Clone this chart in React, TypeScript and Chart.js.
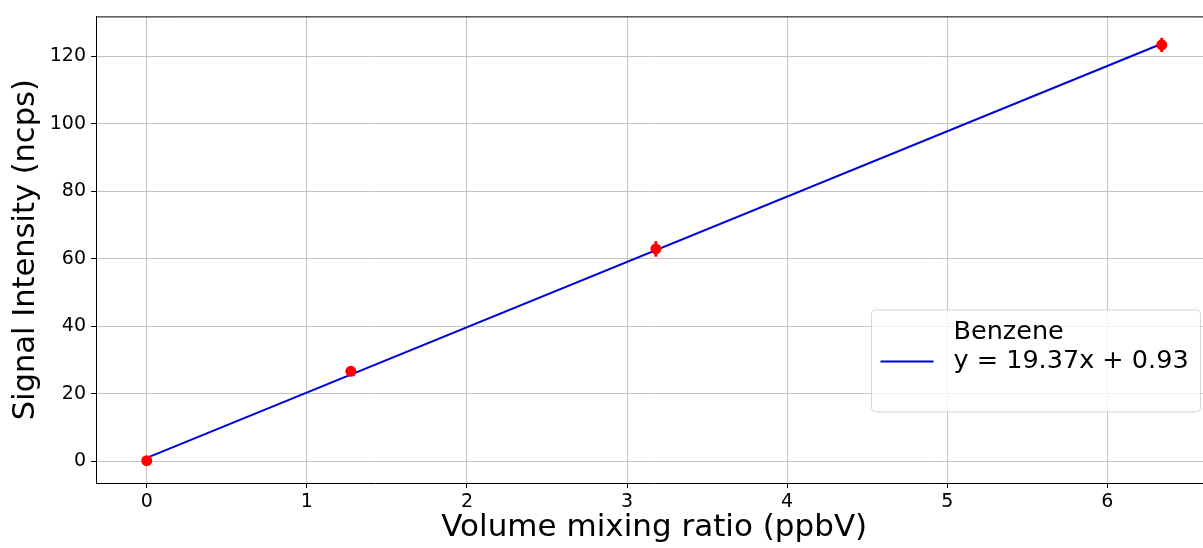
import React, { useEffect, useRef } from 'react';
import { Chart, registerables } from 'chart.js';
Chart.register(...registerables);

// ---- data ----
const pointX = [0, 1.275, 3.18, 6.34];
const pointY = [0.1, 26.6, 62.9, 123.4];
const pointErr = [0.25, 0.5, 2.3, 2.1];
const fitX = [0, 6.34];
const fitY = [0.93, 123.74];
const seriesName = 'Benzene';
const fitLabel = 'y = 19.37x + 0.93';
const xTitle = 'Volume mixing ratio (ppbV)';
const yTitle = 'Signal Intensity (ncps)';
const xRange = [-0.317, 6.657];
const yRange = [-6.52, 131.85];
const xStep = 1;
const yStep = 20;

const FONT = '"DejaVu Sans", sans-serif';

const extrasPlugin = {
  id: 'extras',
  afterDatasetsDraw(chart: any) {
    const ctx = chart.ctx;
    const xs = chart.scales.x;
    const ys = chart.scales.y;
    ctx.save();
    ctx.strokeStyle = 'red';
    ctx.lineWidth = 3;
    pointX.forEach((x, i) => {
      const px = xs.getPixelForValue(x);
      const y1 = ys.getPixelForValue(pointY[i] - pointErr[i]);
      const y2 = ys.getPixelForValue(pointY[i] + pointErr[i]);
      ctx.beginPath();
      ctx.moveTo(px, y1);
      ctx.lineTo(px, y2);
      ctx.stroke();
    });
    ctx.restore();
  },
  afterDraw(chart: any) {
    const ctx = chart.ctx;
    const a = chart.chartArea;
    ctx.save();
    // top spine
    ctx.strokeStyle = '#000';
    ctx.lineWidth = 1;
    ctx.beginPath();
    ctx.moveTo(a.left, a.top + 0.5);
    ctx.lineTo(a.right, a.top + 0.5);
    ctx.stroke();
    // legend (anchored to the visible plot region)
    const bx = 871.5;
    const by = a.top + 293.5;
    const bw = 329;
    const bh = 102;
    ctx.beginPath();
    if ((ctx as any).roundRect) (ctx as any).roundRect(bx, by, bw, bh, 4);
    else ctx.rect(bx, by, bw, bh);
    ctx.fillStyle = 'rgba(255,255,255,0.8)';
    ctx.fill();
    ctx.strokeStyle = '#d6d6d6';
    ctx.lineWidth = 1;
    ctx.stroke();
    ctx.strokeStyle = '#0000dd';
    ctx.lineWidth = 2;
    ctx.beginPath();
    ctx.moveTo(bx + 9, by + 51.5);
    ctx.lineTo(bx + 62, by + 51.5);
    ctx.stroke();
    ctx.fillStyle = '#000';
    ctx.font = `25.5px ${FONT}`;
    ctx.textBaseline = 'alphabetic';
    ctx.textAlign = 'left';
    ctx.fillText(seriesName, bx + 82, by + 29);
    ctx.fillText(fitLabel, bx + 82, by + 58);
    ctx.restore();
  },
};

export default function App() {
  const ref = useRef<HTMLCanvasElement>(null);
  useEffect(() => {
    if (!ref.current) return;
    const chart = new Chart(ref.current, {
      type: 'scatter',
      data: {
        datasets: [
          {
            label: seriesName,
            data: pointX.map((x, i) => ({ x, y: pointY[i] })),
            backgroundColor: 'red',
            borderWidth: 0,
            pointRadius: 5.5,
            order: 0,
          },
          {
            label: fitLabel,
            type: 'line',
            data: fitX.map((x, i) => ({ x, y: fitY[i] })),
            borderColor: '#0000dd',
            borderWidth: 2,
            pointRadius: 0,
            fill: false,
            order: 1,
          } as any,
        ],
      },
      options: {
        animation: false,
        responsive: false,
        devicePixelRatio: 1,
        layout: { padding: { left: 0, top: 16, right: 3, bottom: 0 } },
        plugins: { legend: { display: false }, tooltip: { enabled: false } },
        scales: {
          x: {
            type: 'linear',
            min: xRange[0],
            max: xRange[1],
            border: { color: '#000', width: 1 },
            grid: { color: '#c4c4c4', lineWidth: 1, tickColor: '#000', tickLength: 5, tickWidth: 1 },
            ticks: {
              stepSize: xStep,
              includeBounds: false,
              color: '#000',
              padding: 3,
              font: { family: FONT, size: 19 },
              maxRotation: 0,
            },
            title: {
              display: true,
              text: xTitle,
              color: '#000',
              font: { family: FONT, size: 31 },
              padding: { top: 0, bottom: 1 },
            },
            afterFit: (s: any) => {
              s.height = 65;
            },
          },
          y: {
            type: 'linear',
            min: yRange[0],
            max: yRange[1],
            border: { color: '#000', width: 1 },
            grid: { color: '#c4c4c4', lineWidth: 1, tickColor: '#000', tickLength: 5, tickWidth: 1 },
            ticks: {
              stepSize: yStep,
              includeBounds: false,
              color: '#000',
              padding: 5,
              font: { family: FONT, size: 19 },
            },
            title: {
              display: true,
              text: yTitle,
              color: '#000',
              font: { family: FONT, size: 30.5 },
              padding: { top: 8, bottom: 0 },
            },
            afterFit: (s: any) => {
              s.width = 96;
            },
          },
        },
      },
      plugins: [extrasPlugin],
    });
    return () => chart.destroy();
  }, []);
  return (
    <div style={{ position: 'fixed', left: 0, top: 0, width: 1203, height: 548, overflow: 'hidden', background: '#fff' }}>
      <canvas ref={ref} width={1218} height={548} style={{ width: 1218, height: 548, display: 'block' }} />
    </div>
  );
}
